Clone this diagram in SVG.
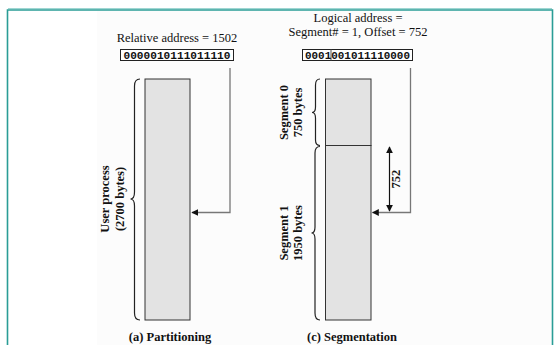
<svg xmlns="http://www.w3.org/2000/svg" width="554" height="345" viewBox="0 0 554 345">
<defs>
<style>
.lbl{font-family:"Liberation Serif","Times New Roman",serif;font-size:12.5px;fill:#111}
.b{font-weight:bold}
.mono{font-family:"Liberation Mono","Courier New",monospace;font-size:11px;font-weight:bold;fill:#111}
.box{fill:#fff;stroke:#222;stroke-width:1}
.mem{fill:#e3e3e3;stroke:#333;stroke-width:1}
.conn{fill:none;stroke:#777;stroke-width:1.3}
.dim{fill:none;stroke:#111;stroke-width:1.2}
.brace{fill:none;stroke:#222;stroke-width:1.2}
</style>
<marker id="ah" viewBox="0 0 10 10" refX="9" refY="5" markerWidth="7" markerHeight="7" markerUnits="userSpaceOnUse" orient="auto">
<path d="M0,0 L10,5 L0,10 z" fill="#111"/>
</marker>
</defs>
<rect x="0" y="0" width="554" height="345" fill="#fff"/>
<rect x="97" y="11" width="455" height="334" fill="#fcfcfc"/>
<path d="M7.5,345 L7.5,10 L552.5,10 L552.5,345" fill="none" stroke="#2a9d96" stroke-width="1.6"/>
<line x1="8" y1="8.5" x2="552" y2="8.5" stroke="#9fd6d2" stroke-width="1"/>

<g id="partitioning">
<text class="lbl" x="177" y="42" text-anchor="middle">Relative address = 1502</text>
<g id="rel-address">
<rect class="box" x="120.5" y="49.5" width="113" height="11"/>
<text class="mono" x="177" y="58.5" text-anchor="middle" textLength="107" lengthAdjust="spacingAndGlyphs">0000010111011110</text>
</g>
<g id="user-process">
<rect class="mem" x="145" y="79" width="45" height="241"/>
<path class="brace" d="M140,79 Q134.5,79 134.5,86 L134.5,192 Q134.5,199 130.5,199 Q134.5,199 134.5,206 L134.5,313 Q134.5,320 140,320"/>
<text class="lbl b" transform="translate(109,199) rotate(-90)" text-anchor="middle">User process</text>
<text class="lbl b" transform="translate(124,199) rotate(-90)" text-anchor="middle">(2700 bytes)</text>
</g>
<text class="lbl b" x="170" y="341" text-anchor="middle" style="font-size:12.5px">(a) Partitioning</text>
</g>

<g id="segmentation">
<text class="lbl" x="358" y="22" text-anchor="middle">Logical address =</text>
<text class="lbl" x="358" y="36" text-anchor="middle">Segment# = 1, Offset = 752</text>
<g id="log-address">
<rect class="box" x="302.5" y="49.5" width="110" height="11"/>
<line x1="331" y1="49.5" x2="331" y2="60.5" stroke="#555" stroke-width="1"/>
<text class="mono" x="357.5" y="58.5" text-anchor="middle" textLength="105" lengthAdjust="spacingAndGlyphs">0001001011110000</text>
</g>
<g id="segment0">
<rect class="mem" x="325.5" y="79" width="45.5" height="66.5"/>
<path class="brace" d="M320,79 Q315.5,79 315.5,85 L315.5,107 Q315.5,112.5 312,112.5 Q315.5,112.5 315.5,118 L315.5,140 Q315.5,145.5 320,145.5"/>
<text class="lbl b" transform="translate(288,112.5) rotate(-90)" text-anchor="middle">Segment 0</text>
<text class="lbl b" transform="translate(302,112.5) rotate(-90)" text-anchor="middle">750 bytes</text>
</g>
<g id="segment1">
<rect class="mem" x="325.5" y="145.5" width="45.5" height="174.5"/>
<path class="brace" d="M320,146.5 Q315,146.5 315,153 L315,227 Q315,233 311.5,233 Q315,233 315,239 L315,313 Q315,320 320,320"/>
<text class="lbl b" transform="translate(288,233) rotate(-90)" text-anchor="middle">Segment 1</text>
<text class="lbl b" transform="translate(302,233) rotate(-90)" text-anchor="middle">1950 bytes</text>
</g>
<text class="lbl b" x="352" y="341" text-anchor="middle" style="font-size:12.5px">(c) Segmentation</text>
</g>

<g id="connectors">
<polyline class="conn" points="230,68 230,212.5 192,212.5" marker-end="url(#ah)"/>
<polyline class="conn" points="410.5,68 410.5,212.5 372.5,212.5" marker-end="url(#ah)"/>
<line class="dim" x1="389.5" y1="153" x2="389.5" y2="147" marker-end="url(#ah)"/>
<line class="dim" x1="389.5" y1="150" x2="389.5" y2="211" marker-end="url(#ah)"/>
<text class="lbl b" transform="translate(400,179) rotate(-90)" text-anchor="middle">752</text>
</g>
</svg>
